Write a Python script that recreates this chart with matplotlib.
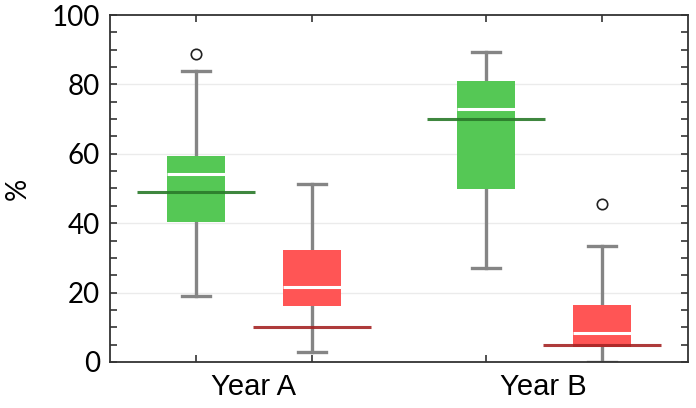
import numpy as np
import matplotlib.pyplot as plt
from matplotlib.ticker import MultipleLocator

# box statistics (percent)
groups = ["Year A", "Year B"]
series = ["green", "red"]
whislo = [19.0, 2.8, 27.1, 0.0]
q1 = [40.4, 16.2, 49.9, 4.2]
med = [54.1, 21.5, 72.8, 8.3]
q3 = [59.4, 32.3, 81.1, 16.5]
whishi = [83.8, 51.3, 89.4, 33.3]
fliers = [[88.7], [], [], [45.4]]
ref_line = [49.0, 10.2, 69.9, 5.0]

positions = [1.0, 2.0, 3.5, 4.5]
box_colors = ["#55C855", "#FF5555", "#55C855", "#FF5555"]
line_colors = ["#2A7A2A", "#A52525", "#2A7A2A", "#A52525"]

fig = plt.figure(figsize=(6.96, 4.08), dpi=100)
ax = fig.add_axes([0.158, 0.113, 0.830, 0.850])

stats = []
for i in range(len(positions)):
    stats.append(dict(whislo=whislo[i], q1=q1[i], med=med[i], q3=q3[i],
                      whishi=whishi[i], fliers=fliers[i]))

bp = ax.bxp(stats, positions=positions, widths=0.5, patch_artist=True,
            showfliers=True, capwidths=0.24,
            boxprops=dict(linewidth=0),
            whiskerprops=dict(color="#858585", linewidth=2.4),
            capprops=dict(color="#858585", linewidth=2.4),
            medianprops=dict(color="white", linewidth=2.2),
            flierprops=dict(marker="o", markerfacecolor="white",
                            markeredgecolor="#222222", markersize=7.5,
                            markeredgewidth=1.2))
for patch, c in zip(bp["boxes"], box_colors):
    patch.set_facecolor(c)
    patch.set_zorder(3)
for w in bp["whiskers"] + bp["caps"]:
    w.set_zorder(2)
for m in bp["medians"]:
    m.set_zorder(4)

for p, v, c in zip(positions, ref_line, line_colors):
    ax.hlines(v, p - 0.51, p + 0.51, colors=c, linewidth=2.2, alpha=0.9, zorder=5)

ax.set_xlim(0.26, 5.24)
ax.set_ylim(0, 100)

for y in [20, 40, 60, 80]:
    ax.axhline(y, color="#EBEBEB", linewidth=1.0, zorder=0)

ax.yaxis.set_major_locator(MultipleLocator(20))
ax.yaxis.set_minor_locator(MultipleLocator(5))
ax.tick_params(axis="y", which="both", direction="in", left=True, right=True,
               color="#333333", width=1.2)
ax.tick_params(axis="y", which="major", length=5, labelsize=20, pad=7)
ax.tick_params(axis="y", which="minor", length=5)
for lab in ax.get_yticklabels():
    lab.set_fontfamily("Lato")

ax.set_xticks([1.5, 4.0])
ax.set_xticklabels(groups, fontsize=21, fontfamily="Liberation Sans")
ax.set_xticks(positions, minor=True)
ax.tick_params(axis="x", which="major", length=0, pad=8)
ax.tick_params(axis="x", which="minor", direction="in", top=True, bottom=True,
               length=5, width=1.2, color="#333333")

ax.set_ylabel("%", fontsize=20, fontfamily="Lato")
ax.yaxis.set_label_coords(-0.137, 0.5)

for s in ax.spines.values():
    s.set_color("#333333")
    s.set_linewidth(1.3)

fig.savefig("out.png", dpi=100)
